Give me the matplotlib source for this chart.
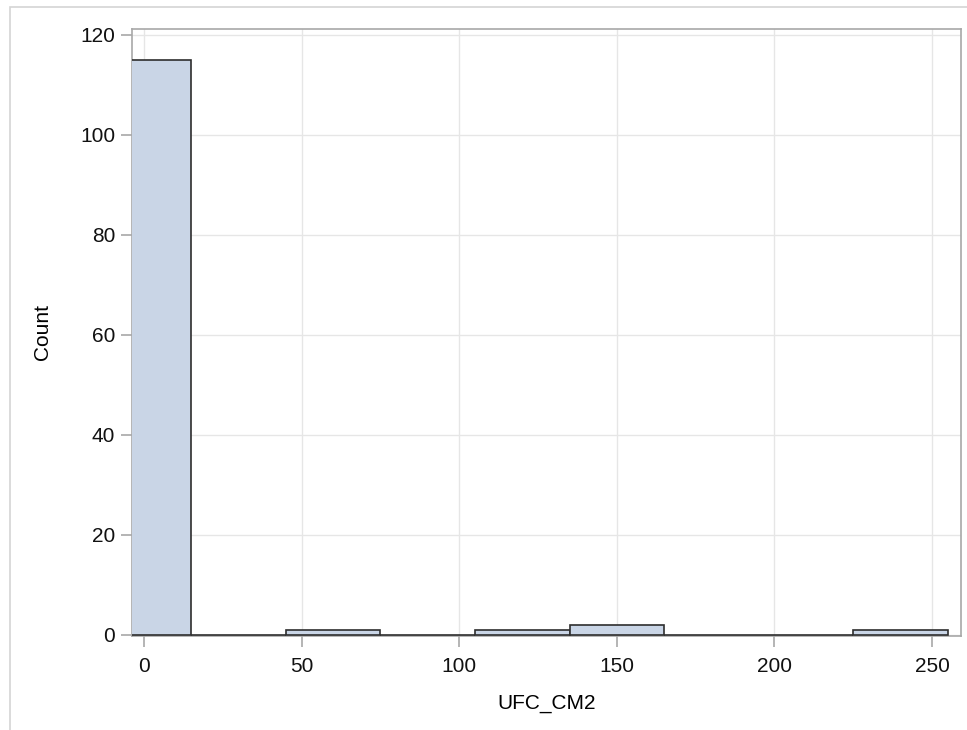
import matplotlib
matplotlib.use('Agg')
import matplotlib.pyplot as plt
from matplotlib.patches import Rectangle

# histogram bins (centers, width 30) and counts
bin_centers = [0, 30, 60, 90, 120, 150, 180, 210, 240]
counts = [115, 0, 1, 0, 1, 2, 0, 0, 1]
bin_width = 30
x_ticks = [0, 50, 100, 150, 200, 250]
y_ticks = [0, 20, 40, 60, 80, 100, 120]

plt.rcParams['font.family'] = ['Liberation Sans', 'DejaVu Sans']

fig = plt.figure(figsize=(9.67, 7.30), dpi=100)
# outer light frame (open at right/bottom)
fig.patches.append(Rectangle((10 / 967, -0.1), 1.2, 1.1 - 7 / 730, transform=fig.transFigure,
                             fill=False, edgecolor='#d4d4d4', linewidth=1.2))

ax = fig.add_axes([132 / 967, 1 - 636 / 730, (961 - 132) / 967, (636 - 29) / 730])
ax.bar(bin_centers, counts, width=bin_width, color='#c9d5e6', edgecolor='#2e2e2e',
       linewidth=1.2, zorder=3)

ax.set_xlim(-3.8, 259.2)
ax.set_ylim(-0.2, 121.2)
ax.set_xticks(x_ticks)
ax.set_yticks(y_ticks)
ax.grid(True, color='#e6e6e6', linewidth=1.0, zorder=0)
ax.set_axisbelow(True)
for s in ax.spines.values():
    s.set_color('#a8a8a8')
    s.set_linewidth(1.2)
ax.tick_params(axis='both', colors='#a8a8a8', labelcolor='#111111', labelsize=15,
               length=8, width=1.2, pad=4)
ax.tick_params(axis='x', pad=7)
ax.set_xlabel('UFC_CM2', fontsize=15, labelpad=13)
ax.set_ylabel('Count', fontsize=15, labelpad=20)

fig.savefig('out.png', dpi=100)
